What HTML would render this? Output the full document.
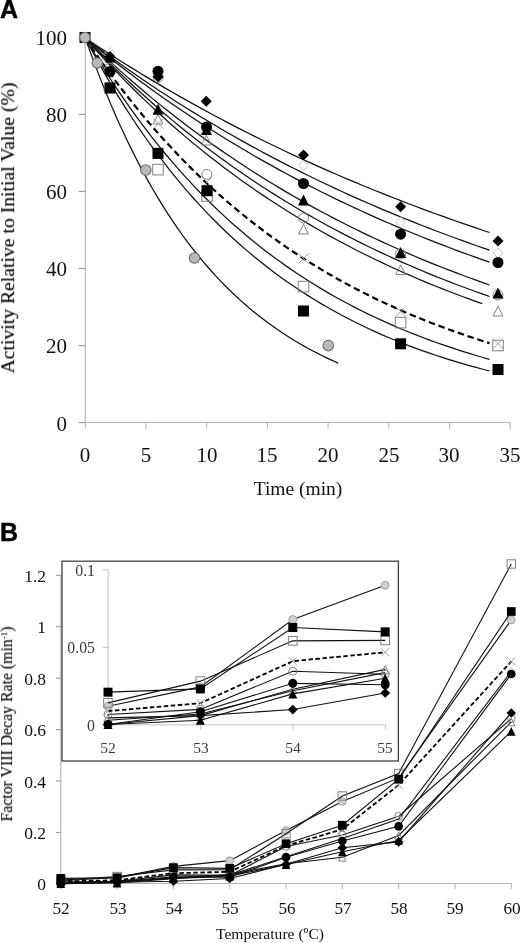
<!DOCTYPE html>
<html><head><meta charset="utf-8"><title>Figure</title>
<style>
html,body{margin:0;padding:0;background:#fff;}
body{width:520px;height:943px;position:relative;overflow:hidden;filter:blur(0.3px);font-family:"Liberation Serif",serif;}
.t{will-change:transform;position:absolute;white-space:nowrap;line-height:1;font-family:"Liberation Serif",serif;}
.b{font-family:"Liberation Sans",sans-serif;font-weight:bold;color:#000;-webkit-text-stroke:0.45px #000;}
</style></head><body>
<svg width="520" height="943" viewBox="0 0 520 943" style="position:absolute;left:0;top:0">
<rect width="520" height="943" fill="#fff"/>
<g stroke="#b6b6b6" stroke-width="1.1" fill="none">
<path d="M85.3 38V422.5H510.5"/>
<path d="M78.8 422.60H85.3" stroke="#9a9a9a"/>
<path d="M78.8 345.54H85.3" stroke="#9a9a9a"/>
<path d="M78.8 268.48H85.3" stroke="#9a9a9a"/>
<path d="M78.8 191.42H85.3" stroke="#9a9a9a"/>
<path d="M78.8 114.36H85.3" stroke="#9a9a9a"/>
<path d="M78.8 37.30H85.3" stroke="#9a9a9a"/>
<path d="M85.30 422.5V428.8" stroke="#b8b8b8"/>
<path d="M146.00 422.5V428.8" stroke="#b8b8b8"/>
<path d="M206.70 422.5V428.8" stroke="#b8b8b8"/>
<path d="M267.40 422.5V428.8" stroke="#b8b8b8"/>
<path d="M328.10 422.5V428.8" stroke="#b8b8b8"/>
<path d="M388.80 422.5V428.8" stroke="#b8b8b8"/>
<path d="M449.50 422.5V428.8" stroke="#b8b8b8"/>
<path d="M510.20 422.5V428.8" stroke="#b8b8b8"/>
</g>
<path d="M85.25 38.05 L91.99 42.54 L98.73 46.98 L105.46 51.36 L112.20 55.70 L118.94 59.98 L125.68 64.21 L132.41 68.40 L139.15 72.53 L145.89 76.62 L152.63 80.66 L159.36 84.65 L166.10 88.60 L172.84 92.50 L179.58 96.35 L186.32 100.16 L193.05 103.92 L199.79 107.64 L206.53 111.32 L213.27 114.95 L220.00 118.54 L226.74 122.09 L233.48 125.60 L240.22 129.07 L246.95 132.49 L253.69 135.88 L260.43 139.22 L267.17 142.53 L273.91 145.80 L280.64 149.03 L287.38 152.22 L294.12 155.38 L300.86 158.50 L307.59 161.58 L314.33 164.63 L321.07 167.64 L327.81 170.61 L334.54 173.55 L341.28 176.46 L348.02 179.33 L354.76 182.17 L361.50 184.98 L368.23 187.75 L374.97 190.49 L381.71 193.20 L388.45 195.88 L395.18 198.52 L401.92 201.13 L408.66 203.72 L415.40 206.27 L422.13 208.80 L428.87 211.29 L435.61 213.76 L442.35 216.19 L449.09 218.60 L455.82 220.98 L462.56 223.33 L469.30 225.66 L476.04 227.95 L482.77 230.23 L489.51 232.47" fill="none" stroke="#111" stroke-width="1.25"/>
<path d="M85.25 38.05 L91.99 43.16 L98.73 48.20 L105.46 53.17 L112.20 58.08 L118.94 62.92 L125.68 67.70 L132.41 72.42 L139.15 77.07 L145.89 81.66 L152.63 86.19 L159.36 90.66 L166.10 95.07 L172.84 99.42 L179.58 103.71 L186.32 107.94 L193.05 112.12 L199.79 116.25 L206.53 120.32 L213.27 124.33 L220.00 128.29 L226.74 132.20 L233.48 136.06 L240.22 139.86 L246.95 143.62 L253.69 147.33 L260.43 150.98 L267.17 154.59 L273.91 158.15 L280.64 161.66 L287.38 165.12 L294.12 168.54 L300.86 171.92 L307.59 175.25 L314.33 178.53 L321.07 181.77 L327.81 184.97 L334.54 188.12 L341.28 191.24 L348.02 194.31 L354.76 197.34 L361.50 200.33 L368.23 203.28 L374.97 206.19 L381.71 209.07 L388.45 211.90 L395.18 214.70 L401.92 217.46 L408.66 220.18 L415.40 222.87 L422.13 225.52 L428.87 228.14 L435.61 230.72 L442.35 233.26 L449.09 235.78 L455.82 238.26 L462.56 240.70 L469.30 243.12 L476.04 245.50 L482.77 247.85 L489.51 250.17" fill="none" stroke="#111" stroke-width="1.25"/>
<path d="M85.25 38.05 L91.99 43.62 L98.73 49.10 L105.46 54.50 L112.20 59.83 L118.94 65.08 L125.68 70.25 L132.41 75.35 L139.15 80.38 L145.89 85.33 L152.63 90.21 L159.36 95.02 L166.10 99.76 L172.84 104.43 L179.58 109.03 L186.32 113.57 L193.05 118.04 L199.79 122.45 L206.53 126.79 L213.27 131.07 L220.00 135.29 L226.74 139.45 L233.48 143.54 L240.22 147.58 L246.95 151.56 L253.69 155.48 L260.43 159.34 L267.17 163.15 L273.91 166.90 L280.64 170.60 L287.38 174.25 L294.12 177.84 L300.86 181.38 L307.59 184.87 L314.33 188.31 L321.07 191.70 L327.81 195.04 L334.54 198.33 L341.28 201.57 L348.02 204.77 L354.76 207.92 L361.50 211.02 L368.23 214.08 L374.97 217.10 L381.71 220.07 L388.45 223.00 L395.18 225.88 L401.92 228.73 L408.66 231.53 L415.40 234.29 L422.13 237.02 L428.87 239.70 L435.61 242.34 L442.35 244.95 L449.09 247.52 L455.82 250.05 L462.56 252.54 L469.30 255.00 L476.04 257.42 L482.77 259.81 L489.51 262.16" fill="none" stroke="#111" stroke-width="1.25"/>
<path d="M85.25 38.05 L91.99 44.58 L98.73 51.01 L105.46 57.32 L112.20 63.53 L118.94 69.63 L125.68 75.63 L132.41 81.52 L139.15 87.32 L145.89 93.02 L152.63 98.62 L159.36 104.12 L166.10 109.53 L172.84 114.85 L179.58 120.08 L186.32 125.22 L193.05 130.27 L199.79 135.24 L206.53 140.12 L213.27 144.92 L220.00 149.63 L226.74 154.27 L233.48 158.83 L240.22 163.31 L246.95 167.71 L253.69 172.04 L260.43 176.30 L267.17 180.48 L273.91 184.59 L280.64 188.64 L287.38 192.61 L294.12 196.52 L300.86 200.36 L307.59 204.13 L314.33 207.84 L321.07 211.49 L327.81 215.07 L334.54 218.60 L341.28 222.06 L348.02 225.46 L354.76 228.81 L361.50 232.10 L368.23 235.34 L374.97 238.51 L381.71 241.64 L388.45 244.71 L395.18 247.73 L401.92 250.70 L408.66 253.62 L415.40 256.49 L422.13 259.31 L428.87 262.08 L435.61 264.80 L442.35 267.48 L449.09 270.11 L455.82 272.70 L462.56 275.24 L469.30 277.74 L476.04 280.20 L482.77 282.62 L489.51 284.99" fill="none" stroke="#111" stroke-width="1.25"/>
<path d="M85.25 38.05 L91.99 45.14 L98.73 52.09 L105.46 58.92 L112.20 65.62 L118.94 72.20 L125.68 78.65 L132.41 84.99 L139.15 91.21 L145.89 97.31 L152.63 103.31 L159.36 109.19 L166.10 114.96 L172.84 120.63 L179.58 126.19 L186.32 131.65 L193.05 137.01 L199.79 142.27 L206.53 147.43 L213.27 152.50 L220.00 157.48 L226.74 162.36 L233.48 167.15 L240.22 171.86 L246.95 176.48 L253.69 181.01 L260.43 185.46 L267.17 189.83 L273.91 194.11 L280.64 198.32 L287.38 202.45 L294.12 206.50 L300.86 210.48 L307.59 214.39 L314.33 218.22 L321.07 221.98 L327.81 225.68 L334.54 229.30 L341.28 232.86 L348.02 236.35 L354.76 239.78 L361.50 243.15 L368.23 246.45 L374.97 249.69 L381.71 252.87 L388.45 256.00 L395.18 259.06 L401.92 262.07 L408.66 265.03 L415.40 267.93 L422.13 270.77 L428.87 273.57 L435.61 276.31 L442.35 279.00 L449.09 281.64 L455.82 284.24 L462.56 286.78 L469.30 289.28 L476.04 291.73 L482.77 294.14 L489.51 296.50" fill="none" stroke="#111" stroke-width="1.25"/>
<path d="M85.25 38.05 L91.87 45.50 L98.48 52.81 L105.10 59.98 L111.72 67.01 L118.33 73.90 L124.95 80.66 L131.56 87.29 L138.18 93.79 L144.80 100.16 L151.41 106.41 L158.03 112.54 L164.65 118.55 L171.26 124.44 L177.88 130.22 L184.49 135.88 L191.11 141.44 L197.73 146.89 L204.34 152.23 L210.96 157.47 L217.58 162.61 L224.19 167.64 L230.81 172.58 L237.42 177.43 L244.04 182.18 L250.66 186.84 L257.27 191.40 L263.89 195.88 L270.51 200.27 L277.12 204.58 L283.74 208.80 L290.36 212.95 L296.97 217.01 L303.59 220.99 L310.20 224.89 L316.82 228.72 L323.44 232.48 L330.05 236.16 L336.67 239.77 L343.29 243.31 L349.90 246.78 L356.52 250.19 L363.13 253.53 L369.75 256.80 L376.37 260.01 L382.98 263.16 L389.60 266.24 L396.22 269.27 L402.83 272.24 L409.45 275.15 L416.07 278.00 L422.68 280.80 L429.30 283.55 L435.91 286.24 L442.53 288.88 L449.15 291.46 L455.76 294.00 L462.38 296.49 L469.00 298.93 L475.61 301.32 L482.23 303.67" fill="none" stroke="#111" stroke-width="1.25"/>
<path d="M85.25 38.05 L91.99 48.03 L98.73 57.76 L105.46 67.23 L112.20 76.45 L118.94 85.44 L125.68 94.19 L132.41 102.72 L139.15 111.02 L145.89 119.11 L152.63 126.99 L159.36 134.66 L166.10 142.13 L172.84 149.41 L179.58 156.50 L186.32 163.41 L193.05 170.13 L199.79 176.68 L206.53 183.06 L213.27 189.28 L220.00 195.33 L226.74 201.23 L233.48 206.97 L240.22 212.57 L246.95 218.02 L253.69 223.32 L260.43 228.49 L267.17 233.53 L273.91 238.43 L280.64 243.21 L287.38 247.86 L294.12 252.39 L300.86 256.81 L307.59 261.11 L314.33 265.29 L321.07 269.37 L327.81 273.34 L334.54 277.21 L341.28 280.98 L348.02 284.65 L354.76 288.23 L361.50 291.71 L368.23 295.10 L374.97 298.41 L381.71 301.63 L388.45 304.76 L395.18 307.81 L401.92 310.79 L408.66 313.68 L415.40 316.50 L422.13 319.25 L428.87 321.93 L435.61 324.54 L442.35 327.08 L449.09 329.55 L455.82 331.96 L462.56 334.30 L469.30 336.59 L476.04 338.81 L482.77 340.98 L489.51 343.09" fill="none" stroke="#000" stroke-width="2.2" stroke-dasharray="6.5 3.8"/>
<path d="M85.25 38.05 L91.99 49.47 L98.73 60.55 L105.46 71.30 L112.20 81.73 L118.94 91.86 L125.68 101.68 L132.41 111.21 L139.15 120.45 L145.89 129.42 L152.63 138.13 L159.36 146.57 L166.10 154.77 L172.84 162.72 L179.58 170.43 L186.32 177.92 L193.05 185.18 L199.79 192.23 L206.53 199.06 L213.27 205.70 L220.00 212.13 L226.74 218.38 L233.48 224.44 L240.22 230.32 L246.95 236.03 L253.69 241.56 L260.43 246.93 L267.17 252.14 L273.91 257.20 L280.64 262.11 L287.38 266.87 L294.12 271.48 L300.86 275.97 L307.59 280.31 L314.33 284.53 L321.07 288.63 L327.81 292.60 L334.54 296.45 L341.28 300.19 L348.02 303.82 L354.76 307.34 L361.50 310.76 L368.23 314.07 L374.97 317.29 L381.71 320.41 L388.45 323.43 L395.18 326.37 L401.92 329.22 L408.66 331.99 L415.40 334.67 L422.13 337.27 L428.87 339.80 L435.61 342.25 L442.35 344.63 L449.09 346.93 L455.82 349.17 L462.56 351.34 L469.30 353.45 L476.04 355.50 L482.77 357.48 L489.51 359.41" fill="none" stroke="#111" stroke-width="1.25"/>
<path d="M85.25 38.05 L91.99 50.74 L98.73 63.00 L105.46 74.87 L112.20 86.34 L118.94 97.43 L125.68 108.15 L132.41 118.53 L139.15 128.55 L145.89 138.25 L152.63 147.63 L159.36 156.70 L166.10 165.47 L172.84 173.95 L179.58 182.14 L186.32 190.07 L193.05 197.74 L199.79 205.15 L206.53 212.32 L213.27 219.25 L220.00 225.96 L226.74 232.44 L233.48 238.71 L240.22 244.77 L246.95 250.63 L253.69 256.29 L260.43 261.77 L267.17 267.07 L273.91 272.20 L280.64 277.15 L287.38 281.94 L294.12 286.58 L300.86 291.06 L307.59 295.39 L314.33 299.58 L321.07 303.63 L327.81 307.54 L334.54 311.33 L341.28 314.99 L348.02 318.54 L354.76 321.96 L361.50 325.27 L368.23 328.47 L374.97 331.57 L381.71 334.56 L388.45 337.46 L395.18 340.26 L401.92 342.97 L408.66 345.59 L415.40 348.12 L422.13 350.56 L428.87 352.93 L435.61 355.22 L442.35 357.43 L449.09 359.57 L455.82 361.64 L462.56 363.64 L469.30 365.58 L476.04 367.45 L482.77 369.26 L489.51 371.01" fill="none" stroke="#111" stroke-width="1.25"/>
<path d="M85.25 38.05 L89.47 49.85 L93.68 61.28 L97.90 72.37 L102.12 83.11 L106.33 93.53 L110.55 103.62 L114.77 113.41 L118.98 122.89 L123.20 132.09 L127.42 141.00 L131.63 149.63 L135.85 158.00 L140.07 166.12 L144.28 173.99 L148.50 181.61 L152.72 189.00 L156.93 196.16 L161.15 203.10 L165.37 209.83 L169.58 216.36 L173.80 222.68 L178.02 228.81 L182.23 234.75 L186.45 240.51 L190.67 246.09 L194.88 251.50 L199.10 256.74 L203.32 261.82 L207.53 266.75 L211.75 271.53 L215.97 276.16 L220.18 280.64 L224.40 284.99 L228.62 289.21 L232.83 293.29 L237.05 297.25 L241.27 301.09 L245.48 304.81 L249.70 308.42 L253.92 311.91 L258.13 315.30 L262.35 318.59 L266.56 321.77 L270.78 324.85 L275.00 327.85 L279.21 330.74 L283.43 333.55 L287.65 336.28 L291.86 338.92 L296.08 341.48 L300.30 343.96 L304.51 346.36 L308.73 348.69 L312.95 350.95 L317.16 353.14 L321.38 355.26 L325.60 357.32 L329.81 359.31 L334.03 361.25 L338.25 363.12" fill="none" stroke="#111" stroke-width="1.25"/>
<path d="M110.00 47.60L115.00 52.60L110.00 57.60L105.00 52.60Z" fill="none" stroke="#c4c4c4" stroke-width="1"/>
<path d="M158.00 72.00L163.00 77.00L158.00 82.00L153.00 77.00Z" fill="none" stroke="#c4c4c4" stroke-width="1"/>
<path d="M207.00 122.00L212.00 127.00L207.00 132.00L202.00 127.00Z" fill="none" stroke="#c4c4c4" stroke-width="1"/>
<path d="M303.50 160.30L308.50 165.30L303.50 170.30L298.50 165.30Z" fill="none" stroke="#c4c4c4" stroke-width="1"/>
<path d="M400.60 217.00L405.60 222.00L400.60 227.00L395.60 222.00Z" fill="none" stroke="#c4c4c4" stroke-width="1"/>
<path d="M498.00 248.00L503.00 253.00L498.00 258.00L493.00 253.00Z" fill="none" stroke="#c4c4c4" stroke-width="1"/>
<circle cx="110.00" cy="68.00" r="5.00" fill="none" stroke="#808080" stroke-width="1"/>
<circle cx="158.20" cy="77.40" r="5.00" fill="none" stroke="#808080" stroke-width="1"/>
<circle cx="206.80" cy="174.40" r="5.00" fill="none" stroke="#808080" stroke-width="1"/>
<circle cx="303.50" cy="218.00" r="5.00" fill="none" stroke="#808080" stroke-width="1"/>
<circle cx="400.60" cy="254.00" r="5.00" fill="none" stroke="#808080" stroke-width="1"/>
<circle cx="498.00" cy="295.00" r="5.00" fill="none" stroke="#808080" stroke-width="1"/>
<path d="M108.60 80.90L113.50 90.60L103.70 90.60Z" fill="none" stroke="#808080" stroke-width="1"/>
<path d="M158.00 114.30L162.90 124.00L153.10 124.00Z" fill="none" stroke="#808080" stroke-width="1"/>
<path d="M206.50 135.30L211.40 145.00L201.60 145.00Z" fill="none" stroke="#808080" stroke-width="1"/>
<path d="M303.50 224.30L308.40 234.00L298.60 234.00Z" fill="none" stroke="#808080" stroke-width="1"/>
<path d="M400.60 264.90L405.50 274.60L395.70 274.60Z" fill="none" stroke="#808080" stroke-width="1"/>
<path d="M498.00 306.30L502.90 316.00L493.10 316.00Z" fill="none" stroke="#808080" stroke-width="1"/>
<rect x="152.70" y="164.30" width="10.6" height="10.6" fill="none" stroke="#808080" stroke-width="1"/>
<rect x="201.70" y="190.70" width="10.6" height="10.6" fill="none" stroke="#808080" stroke-width="1"/>
<rect x="298.20" y="281.30" width="10.6" height="10.6" fill="none" stroke="#808080" stroke-width="1"/>
<rect x="395.30" y="317.30" width="10.6" height="10.6" fill="none" stroke="#808080" stroke-width="1"/>
<rect x="492.70" y="340.20" width="10.6" height="10.6" fill="none" stroke="#808080" stroke-width="1"/>
<path d="M153.50 118.70L163.50 128.70M163.50 118.70L153.50 128.70" fill="none" stroke="#a0a0a0" stroke-width="1"/>
<path d="M202.00 177.00L212.00 187.00M212.00 177.00L202.00 187.00" fill="none" stroke="#a0a0a0" stroke-width="1"/>
<path d="M298.50 253.50L308.50 263.50M308.50 253.50L298.50 263.50" fill="none" stroke="#a0a0a0" stroke-width="1"/>
<path d="M395.60 306.50L405.60 316.50M405.60 306.50L395.60 316.50" fill="none" stroke="#a0a0a0" stroke-width="1"/>
<path d="M493.00 338.60L503.00 348.60M503.00 338.60L493.00 348.60" fill="none" stroke="#a0a0a0" stroke-width="1"/>
<path d="M110.00 51.00L115.50 56.50L110.00 62.00L104.50 56.50Z" fill="#000"/>
<path d="M158.10 71.30L163.60 76.80L158.10 82.30L152.60 76.80Z" fill="#000"/>
<path d="M206.25 95.75L211.75 101.25L206.25 106.75L200.75 101.25Z" fill="#000"/>
<path d="M303.50 149.50L309.00 155.00L303.50 160.50L298.00 155.00Z" fill="#000"/>
<path d="M400.60 201.20L406.10 206.70L400.60 212.20L395.10 206.70Z" fill="#000"/>
<path d="M498.00 235.50L503.50 241.00L498.00 246.50L492.50 241.00Z" fill="#000"/>
<circle cx="110.00" cy="71.50" r="5.50" fill="#000"/>
<circle cx="158.00" cy="71.25" r="5.50" fill="#000"/>
<circle cx="206.50" cy="127.00" r="5.50" fill="#000"/>
<circle cx="303.50" cy="183.50" r="5.50" fill="#000"/>
<circle cx="400.60" cy="234.20" r="5.50" fill="#000"/>
<circle cx="498.00" cy="262.50" r="5.50" fill="#000"/>
<path d="M110.50 51.50L116.00 62.50L105.00 62.50Z" fill="#000"/>
<path d="M158.00 103.75L163.50 114.75L152.50 114.75Z" fill="#000"/>
<path d="M206.50 124.00L212.00 135.00L201.00 135.00Z" fill="#000"/>
<path d="M303.50 194.50L309.00 205.50L298.00 205.50Z" fill="#000"/>
<path d="M400.60 246.90L406.10 257.90L395.10 257.90Z" fill="#000"/>
<path d="M498.00 287.50L503.50 298.50L492.50 298.50Z" fill="#000"/>
<rect x="79.50" y="32.00" width="11" height="11" fill="#000"/>
<rect x="104.50" y="82.50" width="11" height="11" fill="#000"/>
<rect x="152.50" y="147.90" width="11" height="11" fill="#000"/>
<rect x="201.50" y="185.20" width="11" height="11" fill="#000"/>
<rect x="298.00" y="305.50" width="11" height="11" fill="#000"/>
<rect x="395.10" y="338.30" width="11" height="11" fill="#000"/>
<rect x="492.50" y="364.00" width="11" height="11" fill="#000"/>
<circle cx="85.00" cy="37.50" r="5.25" fill="#b9b9b9" stroke="#6e6e6e" stroke-width="1.15"/>
<circle cx="97.30" cy="63.00" r="5.25" fill="#b9b9b9" stroke="#6e6e6e" stroke-width="1.15"/>
<circle cx="145.80" cy="170.00" r="5.25" fill="#b9b9b9" stroke="#6e6e6e" stroke-width="1.15"/>
<circle cx="194.50" cy="258.00" r="5.25" fill="#b9b9b9" stroke="#6e6e6e" stroke-width="1.15"/>
<circle cx="328.30" cy="345.60" r="5.25" fill="#b9b9b9" stroke="#6e6e6e" stroke-width="1.15"/>
<g stroke="#b6b6b6" stroke-width="1.1" fill="none">
<path d="M60.8 575V883.5H511.5"/>
<path d="M56 883.90H60.8" stroke="#9a9a9a"/>
<path d="M56 832.47H60.8" stroke="#9a9a9a"/>
<path d="M56 781.04H60.8" stroke="#9a9a9a"/>
<path d="M56 729.61H60.8" stroke="#9a9a9a"/>
<path d="M56 678.18H60.8" stroke="#9a9a9a"/>
<path d="M56 626.75H60.8" stroke="#9a9a9a"/>
<path d="M56 575.32H60.8" stroke="#9a9a9a"/>
<path d="M60.80 883.5V889" stroke="#b8b8b8"/>
<path d="M117.11 883.5V889" stroke="#b8b8b8"/>
<path d="M173.42 883.5V889" stroke="#b8b8b8"/>
<path d="M229.73 883.5V889" stroke="#b8b8b8"/>
<path d="M286.04 883.5V889" stroke="#b8b8b8"/>
<path d="M342.35 883.5V889" stroke="#b8b8b8"/>
<path d="M398.66 883.5V889" stroke="#b8b8b8"/>
<path d="M454.97 883.5V889" stroke="#b8b8b8"/>
<path d="M511.28 883.5V889" stroke="#b8b8b8"/>
</g>
<path d="M60.80 880.72 L117.11 877.50 L173.42 866.35 L229.73 860.67 L286.04 830.60 L342.35 801.56 L398.66 777.92 L511.28 619.99" fill="none" stroke="#111" stroke-width="1.1"/>
<circle cx="60.80" cy="880.72" r="3.85" fill="#cfcfcf" stroke="#a2a2a2" stroke-width="1"/>
<circle cx="117.11" cy="877.50" r="3.85" fill="#cfcfcf" stroke="#a2a2a2" stroke-width="1"/>
<circle cx="173.42" cy="866.35" r="3.85" fill="#cfcfcf" stroke="#a2a2a2" stroke-width="1"/>
<circle cx="229.73" cy="860.67" r="3.85" fill="#cfcfcf" stroke="#a2a2a2" stroke-width="1"/>
<circle cx="286.04" cy="830.60" r="3.85" fill="#cfcfcf" stroke="#a2a2a2" stroke-width="1"/>
<circle cx="342.35" cy="801.56" r="3.85" fill="#cfcfcf" stroke="#a2a2a2" stroke-width="1"/>
<circle cx="398.66" cy="777.92" r="3.85" fill="#cfcfcf" stroke="#a2a2a2" stroke-width="1"/>
<circle cx="511.28" cy="619.99" r="3.85" fill="#cfcfcf" stroke="#a2a2a2" stroke-width="1"/>
<path d="M60.80 880.15 L117.11 876.55 L173.42 869.87 L229.73 869.79 L286.04 833.68 L342.35 796.01 L398.66 773.50 L511.28 563.99" fill="none" stroke="#111" stroke-width="1.1"/>
<rect x="56.60" y="875.95" width="8.399999999999999" height="8.399999999999999" fill="none" stroke="#808080" stroke-width="1"/>
<rect x="112.91" y="872.35" width="8.399999999999999" height="8.399999999999999" fill="none" stroke="#808080" stroke-width="1"/>
<rect x="169.22" y="865.67" width="8.399999999999999" height="8.399999999999999" fill="none" stroke="#808080" stroke-width="1"/>
<rect x="225.53" y="865.59" width="8.399999999999999" height="8.399999999999999" fill="none" stroke="#808080" stroke-width="1"/>
<rect x="281.84" y="829.48" width="8.399999999999999" height="8.399999999999999" fill="none" stroke="#808080" stroke-width="1"/>
<rect x="338.15" y="791.81" width="8.399999999999999" height="8.399999999999999" fill="none" stroke="#808080" stroke-width="1"/>
<rect x="394.46" y="769.30" width="8.399999999999999" height="8.399999999999999" fill="none" stroke="#808080" stroke-width="1"/>
<rect x="507.08" y="559.79" width="8.399999999999999" height="8.399999999999999" fill="none" stroke="#808080" stroke-width="1"/>
<path d="M60.80 882.08 L117.11 881.23 L173.42 874.91 L229.73 875.40 L286.04 846.41 L342.35 834.97 L398.66 816.21 L511.28 718.55" fill="none" stroke="#111" stroke-width="1.1"/>
<circle cx="60.80" cy="882.08" r="3.85" fill="none" stroke="#808080" stroke-width="1"/>
<circle cx="117.11" cy="881.23" r="3.85" fill="none" stroke="#808080" stroke-width="1"/>
<circle cx="173.42" cy="874.91" r="3.85" fill="none" stroke="#808080" stroke-width="1"/>
<circle cx="229.73" cy="875.40" r="3.85" fill="none" stroke="#808080" stroke-width="1"/>
<circle cx="286.04" cy="846.41" r="3.85" fill="none" stroke="#808080" stroke-width="1"/>
<circle cx="342.35" cy="834.97" r="3.85" fill="none" stroke="#808080" stroke-width="1"/>
<circle cx="398.66" cy="816.21" r="3.85" fill="none" stroke="#808080" stroke-width="1"/>
<circle cx="511.28" cy="718.55" r="3.85" fill="none" stroke="#808080" stroke-width="1"/>
<path d="M60.80 883.03 L117.11 882.00 L173.42 878.15 L229.73 875.14 L286.04 856.81 L342.35 838.57 L398.66 819.04 L511.28 671.52" fill="none" stroke="#111" stroke-width="1.1"/>
<path d="M60.80 879.18L64.65 883.03L60.80 886.88L56.95 883.03Z" fill="none" stroke="#c4c4c4" stroke-width="1"/>
<path d="M117.11 878.15L120.96 882.00L117.11 885.85L113.26 882.00Z" fill="none" stroke="#c4c4c4" stroke-width="1"/>
<path d="M173.42 874.30L177.27 878.15L173.42 882.00L169.57 878.15Z" fill="none" stroke="#c4c4c4" stroke-width="1"/>
<path d="M229.73 871.29L233.58 875.14L229.73 878.99L225.88 875.14Z" fill="none" stroke="#c4c4c4" stroke-width="1"/>
<path d="M286.04 852.96L289.89 856.81L286.04 860.66L282.19 856.81Z" fill="none" stroke="#c4c4c4" stroke-width="1"/>
<path d="M342.35 834.72L346.20 838.57L342.35 842.42L338.50 838.57Z" fill="none" stroke="#c4c4c4" stroke-width="1"/>
<path d="M398.66 815.19L402.51 819.04L398.66 822.89L394.81 819.04Z" fill="none" stroke="#c4c4c4" stroke-width="1"/>
<path d="M511.28 667.67L515.13 671.52L511.28 675.37L507.43 671.52Z" fill="none" stroke="#c4c4c4" stroke-width="1"/>
<path d="M60.80 882.64 L117.11 882.26 L173.42 877.89 L229.73 874.60 L286.04 863.75 L342.35 857.20 L398.66 835.48 L511.28 721.89" fill="none" stroke="#111" stroke-width="1.1"/>
<path d="M60.80 879.09L64.55 886.49L57.05 886.49Z" fill="none" stroke="#808080" stroke-width="1"/>
<path d="M117.11 878.71L120.86 886.11L113.36 886.11Z" fill="none" stroke="#808080" stroke-width="1"/>
<path d="M173.42 874.34L177.17 881.74L169.67 881.74Z" fill="none" stroke="#808080" stroke-width="1"/>
<path d="M229.73 871.05L233.48 878.45L225.98 878.45Z" fill="none" stroke="#808080" stroke-width="1"/>
<path d="M286.04 860.20L289.79 867.60L282.29 867.60Z" fill="none" stroke="#808080" stroke-width="1"/>
<path d="M342.35 853.65L346.10 861.05L338.60 861.05Z" fill="none" stroke="#808080" stroke-width="1"/>
<path d="M398.66 831.93L402.41 839.33L394.91 839.33Z" fill="none" stroke="#808080" stroke-width="1"/>
<path d="M511.28 718.34L515.03 725.74L507.53 725.74Z" fill="none" stroke="#808080" stroke-width="1"/>
<path d="M60.80 881.51 L117.11 880.20 L173.42 873.24 L229.73 871.77 L286.04 845.76 L342.35 829.32 L398.66 785.01 L511.28 661.32" fill="none" stroke="#000" stroke-width="1.8" stroke-dasharray="4.5 2.5"/>
<path d="M56.85 877.56L64.75 885.46M64.75 877.56L56.85 885.46" fill="none" stroke="#a0a0a0" stroke-width="1"/>
<path d="M113.16 876.25L121.06 884.15M121.06 876.25L113.16 884.15" fill="none" stroke="#a0a0a0" stroke-width="1"/>
<path d="M169.47 869.29L177.37 877.19M177.37 869.29L169.47 877.19" fill="none" stroke="#a0a0a0" stroke-width="1"/>
<path d="M225.78 867.82L233.68 875.72M233.68 867.82L225.78 875.72" fill="none" stroke="#a0a0a0" stroke-width="1"/>
<path d="M282.09 841.81L289.99 849.71M289.99 841.81L282.09 849.71" fill="none" stroke="#a0a0a0" stroke-width="1"/>
<path d="M338.40 825.37L346.30 833.27M346.30 825.37L338.40 833.27" fill="none" stroke="#a0a0a0" stroke-width="1"/>
<path d="M394.71 781.06L402.61 788.96M402.61 781.06L394.71 788.96" fill="none" stroke="#a0a0a0" stroke-width="1"/>
<path d="M507.33 657.37L515.23 665.27M515.23 657.37L507.33 665.27" fill="none" stroke="#a0a0a0" stroke-width="1"/>
<path d="M60.80 883.72 L117.11 883.03 L173.42 878.66 L229.73 876.06 L286.04 864.52 L342.35 851.80 L398.66 840.50 L511.28 731.32" fill="none" stroke="#111" stroke-width="1.1"/>
<path d="M60.80 879.37L65.15 888.07L56.45 888.07Z" fill="#000"/>
<path d="M117.11 878.68L121.46 887.38L112.76 887.38Z" fill="#000"/>
<path d="M173.42 874.31L177.77 883.01L169.07 883.01Z" fill="#000"/>
<path d="M229.73 871.71L234.08 880.41L225.38 880.41Z" fill="#000"/>
<path d="M286.04 860.17L290.39 868.88L281.69 868.88Z" fill="#000"/>
<path d="M342.35 847.45L346.70 856.15L338.00 856.15Z" fill="#000"/>
<path d="M398.66 836.15L403.01 844.85L394.31 844.85Z" fill="#000"/>
<path d="M511.28 726.97L515.63 735.67L506.93 735.67Z" fill="#000"/>
<path d="M60.80 883.72 L117.11 882.26 L173.42 881.26 L229.73 878.51 L286.04 864.27 L342.35 847.82 L398.66 841.91 L511.28 712.89" fill="none" stroke="#111" stroke-width="1.1"/>
<path d="M60.80 878.97L65.55 883.72L60.80 888.47L56.05 883.72Z" fill="#000"/>
<path d="M117.11 877.51L121.86 882.26L117.11 887.01L112.36 882.26Z" fill="#000"/>
<path d="M173.42 876.51L178.17 881.26L173.42 886.01L168.67 881.26Z" fill="#000"/>
<path d="M229.73 873.76L234.48 878.51L229.73 883.26L224.98 878.51Z" fill="#000"/>
<path d="M286.04 859.52L290.79 864.27L286.04 869.02L281.29 864.27Z" fill="#000"/>
<path d="M342.35 843.07L347.10 847.82L342.35 852.57L337.60 847.82Z" fill="#000"/>
<path d="M398.66 837.16L403.41 841.91L398.66 846.66L393.91 841.91Z" fill="#000"/>
<path d="M511.28 708.14L516.03 712.89L511.28 717.64L506.53 712.89Z" fill="#000"/>
<path d="M60.80 883.72 L117.11 881.62 L173.42 876.91 L229.73 877.14 L286.04 857.20 L342.35 841.01 L398.66 826.31 L511.28 674.01" fill="none" stroke="#111" stroke-width="1.1"/>
<circle cx="60.80" cy="883.72" r="4.35" fill="#000"/>
<circle cx="117.11" cy="881.62" r="4.35" fill="#000"/>
<circle cx="173.42" cy="876.91" r="4.35" fill="#000"/>
<circle cx="229.73" cy="877.14" r="4.35" fill="#000"/>
<circle cx="286.04" cy="857.20" r="4.35" fill="#000"/>
<circle cx="342.35" cy="841.01" r="4.35" fill="#000"/>
<circle cx="398.66" cy="826.31" r="4.35" fill="#000"/>
<circle cx="511.28" cy="674.01" r="4.35" fill="#000"/>
<path d="M60.80 878.38 L117.11 877.84 L173.42 867.66 L229.73 868.38 L286.04 843.71 L342.35 825.20 L398.66 779.20 L511.28 611.51" fill="none" stroke="#111" stroke-width="1.1"/>
<rect x="56.45" y="874.03" width="8.7" height="8.7" fill="#000"/>
<rect x="112.76" y="873.49" width="8.7" height="8.7" fill="#000"/>
<rect x="169.07" y="863.31" width="8.7" height="8.7" fill="#000"/>
<rect x="225.38" y="864.03" width="8.7" height="8.7" fill="#000"/>
<rect x="281.69" y="839.36" width="8.7" height="8.7" fill="#000"/>
<rect x="338.00" y="820.85" width="8.7" height="8.7" fill="#000"/>
<rect x="394.31" y="774.85" width="8.7" height="8.7" fill="#000"/>
<rect x="506.93" y="607.16" width="8.7" height="8.7" fill="#000"/>
<rect x="62" y="561.2" width="336.4" height="199.8" fill="#fff" stroke="#3a3a3a" stroke-width="1.25"/>
<g stroke="#c4c4c4" stroke-width="1" fill="none">
<path d="M108.2 569.8V724.9H385.5"/>
<path d="M102.6 724.90H108.2"/>
<path d="M102.6 647.35H108.2"/>
<path d="M102.6 569.80H108.2"/>
<path d="M108.20 724.9V729.6"/>
<path d="M200.60 724.9V729.6"/>
<path d="M293.00 724.9V729.6"/>
<path d="M385.40 724.9V729.6"/>
</g>
<path d="M108.00 706.29 L200.40 686.90 L292.80 619.59 L385.20 585.31" fill="none" stroke="#111" stroke-width="1.1"/>
<circle cx="108.00" cy="706.29" r="4.00" fill="#cfcfcf" stroke="#a2a2a2" stroke-width="1"/>
<circle cx="200.40" cy="686.90" r="4.00" fill="#cfcfcf" stroke="#a2a2a2" stroke-width="1"/>
<circle cx="292.80" cy="619.59" r="4.00" fill="#cfcfcf" stroke="#a2a2a2" stroke-width="1"/>
<circle cx="385.20" cy="585.31" r="4.00" fill="#cfcfcf" stroke="#a2a2a2" stroke-width="1"/>
<path d="M108.00 702.88 L200.40 681.16 L292.80 640.84 L385.20 640.37" fill="none" stroke="#111" stroke-width="1.1"/>
<rect x="103.65" y="698.53" width="8.7" height="8.7" fill="none" stroke="#808080" stroke-width="1"/>
<rect x="196.05" y="676.81" width="8.7" height="8.7" fill="none" stroke="#808080" stroke-width="1"/>
<rect x="288.45" y="636.49" width="8.7" height="8.7" fill="none" stroke="#808080" stroke-width="1"/>
<rect x="380.85" y="636.02" width="8.7" height="8.7" fill="none" stroke="#808080" stroke-width="1"/>
<path d="M108.00 714.51 L200.40 709.39 L292.80 671.24 L385.20 674.18" fill="none" stroke="#111" stroke-width="1.1"/>
<circle cx="108.00" cy="714.51" r="4.00" fill="none" stroke="#808080" stroke-width="1"/>
<circle cx="200.40" cy="709.39" r="4.00" fill="none" stroke="#808080" stroke-width="1"/>
<circle cx="292.80" cy="671.24" r="4.00" fill="none" stroke="#808080" stroke-width="1"/>
<circle cx="385.20" cy="674.18" r="4.00" fill="none" stroke="#808080" stroke-width="1"/>
<path d="M108.00 720.25 L200.40 714.04 L292.80 690.78 L385.20 672.63" fill="none" stroke="#111" stroke-width="1.1"/>
<path d="M108.00 716.25L112.00 720.25L108.00 724.25L104.00 720.25Z" fill="none" stroke="#c4c4c4" stroke-width="1"/>
<path d="M200.40 710.04L204.40 714.04L200.40 718.04L196.40 714.04Z" fill="none" stroke="#c4c4c4" stroke-width="1"/>
<path d="M292.80 686.78L296.80 690.78L292.80 694.78L288.80 690.78Z" fill="none" stroke="#c4c4c4" stroke-width="1"/>
<path d="M385.20 668.63L389.20 672.63L385.20 676.63L381.20 672.63Z" fill="none" stroke="#c4c4c4" stroke-width="1"/>
<path d="M108.00 717.92 L200.40 715.59 L292.80 689.23 L385.20 669.37" fill="none" stroke="#111" stroke-width="1.1"/>
<path d="M108.00 714.22L111.90 721.92L104.10 721.92Z" fill="none" stroke="#808080" stroke-width="1"/>
<path d="M200.40 711.89L204.30 719.59L196.50 719.59Z" fill="none" stroke="#808080" stroke-width="1"/>
<path d="M292.80 685.53L296.70 693.23L288.90 693.23Z" fill="none" stroke="#808080" stroke-width="1"/>
<path d="M385.20 665.67L389.10 673.37L381.30 673.37Z" fill="none" stroke="#808080" stroke-width="1"/>
<path d="M108.00 711.10 L200.40 703.19 L292.80 661.15 L385.20 652.31" fill="none" stroke="#000" stroke-width="1.8" stroke-dasharray="4.5 2.5"/>
<path d="M103.90 707.00L112.10 715.20M112.10 707.00L103.90 715.20" fill="none" stroke="#a0a0a0" stroke-width="1"/>
<path d="M196.30 699.09L204.50 707.29M204.50 699.09L196.30 707.29" fill="none" stroke="#a0a0a0" stroke-width="1"/>
<path d="M288.70 657.05L296.90 665.25M296.90 657.05L288.70 665.25" fill="none" stroke="#a0a0a0" stroke-width="1"/>
<path d="M381.10 648.21L389.30 656.41M389.30 648.21L381.10 656.41" fill="none" stroke="#a0a0a0" stroke-width="1"/>
<path d="M108.00 724.43 L200.40 720.25 L292.80 693.88 L385.20 678.21" fill="none" stroke="#111" stroke-width="1.1"/>
<path d="M108.00 719.93L112.50 728.93L103.50 728.93Z" fill="#000"/>
<path d="M200.40 715.75L204.90 724.75L195.90 724.75Z" fill="#000"/>
<path d="M292.80 689.38L297.30 698.38L288.30 698.38Z" fill="#000"/>
<path d="M385.20 673.71L389.70 682.71L380.70 682.71Z" fill="#000"/>
<path d="M108.00 724.43 L200.40 715.59 L292.80 709.55 L385.20 692.95" fill="none" stroke="#111" stroke-width="1.1"/>
<path d="M108.00 719.53L112.90 724.43L108.00 729.33L103.10 724.43Z" fill="#000"/>
<path d="M200.40 710.69L205.30 715.59L200.40 720.49L195.50 715.59Z" fill="#000"/>
<path d="M292.80 704.65L297.70 709.55L292.80 714.45L287.90 709.55Z" fill="#000"/>
<path d="M385.20 688.05L390.10 692.95L385.20 697.85L380.30 692.95Z" fill="#000"/>
<path d="M108.00 724.43 L200.40 711.72 L292.80 683.33 L385.20 684.73" fill="none" stroke="#111" stroke-width="1.1"/>
<circle cx="108.00" cy="724.43" r="4.50" fill="#000"/>
<circle cx="200.40" cy="711.72" r="4.50" fill="#000"/>
<circle cx="292.80" cy="683.33" r="4.50" fill="#000"/>
<circle cx="385.20" cy="684.73" r="4.50" fill="#000"/>
<path d="M108.00 692.17 L200.40 688.92 L292.80 627.50 L385.20 631.84" fill="none" stroke="#111" stroke-width="1.1"/>
<rect x="103.50" y="687.67" width="9" height="9" fill="#000"/>
<rect x="195.90" y="684.42" width="9" height="9" fill="#000"/>
<rect x="288.30" y="623.00" width="9" height="9" fill="#000"/>
<rect x="380.70" y="627.34" width="9" height="9" fill="#000"/>
</svg>
<div class="t b" style="left:0.4px;top:-3.2px;font-size:25px;">A</div><div class="t b" style="left:0.3px;top:520.4px;font-size:25px;">B</div><div class="t" style="left:66.5px;top:423.5px;font-size:21px;color:#111;transform:translate(-100%,-50%);">0</div><div class="t" style="left:66.5px;top:346.44px;font-size:21px;color:#111;transform:translate(-100%,-50%);">20</div><div class="t" style="left:66.5px;top:269.38px;font-size:21px;color:#111;transform:translate(-100%,-50%);">40</div><div class="t" style="left:66.5px;top:192.32000000000002px;font-size:21px;color:#111;transform:translate(-100%,-50%);">60</div><div class="t" style="left:66.5px;top:115.26000000000002px;font-size:21px;color:#111;transform:translate(-100%,-50%);">80</div><div class="t" style="left:66.5px;top:38.20000000000001px;font-size:21px;color:#111;transform:translate(-100%,-50%);">100</div><div class="t" style="left:85.1px;top:454.6px;font-size:21px;color:#111;transform:translate(-50%,-50%);">0</div><div class="t" style="left:145.8px;top:454.6px;font-size:21px;color:#111;transform:translate(-50%,-50%);">5</div><div class="t" style="left:206.5px;top:454.6px;font-size:21px;color:#111;transform:translate(-50%,-50%);">10</div><div class="t" style="left:267.20000000000005px;top:454.6px;font-size:21px;color:#111;transform:translate(-50%,-50%);">15</div><div class="t" style="left:327.90000000000003px;top:454.6px;font-size:21px;color:#111;transform:translate(-50%,-50%);">20</div><div class="t" style="left:388.6px;top:454.6px;font-size:21px;color:#111;transform:translate(-50%,-50%);">25</div><div class="t" style="left:449.30000000000007px;top:454.6px;font-size:21px;color:#111;transform:translate(-50%,-50%);">30</div><div class="t" style="left:510.00000000000006px;top:454.6px;font-size:21px;color:#111;transform:translate(-50%,-50%);">35</div><div class="t" style="left:297.7px;top:489px;font-size:19.5px;color:#111;transform:translate(-50%,-50%);">Time (min)</div><div class="t" style="left:8.3px;top:228px;font-size:19.7px;color:#000;-webkit-text-stroke:0.12px #000;transform:translate(-50%,-50%) rotate(-90deg);">Activity Relative to Initial Value (%)</div><div class="t" style="left:45.8px;top:885.4px;font-size:17.5px;color:#111;transform:translate(-100%,-50%);">0</div><div class="t" style="left:45.8px;top:833.97px;font-size:17.5px;color:#111;transform:translate(-100%,-50%);">0.2</div><div class="t" style="left:45.8px;top:782.54px;font-size:17.5px;color:#111;transform:translate(-100%,-50%);">0.4</div><div class="t" style="left:45.8px;top:731.11px;font-size:17.5px;color:#111;transform:translate(-100%,-50%);">0.6</div><div class="t" style="left:45.8px;top:679.68px;font-size:17.5px;color:#111;transform:translate(-100%,-50%);">0.8</div><div class="t" style="left:45.8px;top:628.25px;font-size:17.5px;color:#111;transform:translate(-100%,-50%);">1</div><div class="t" style="left:45.8px;top:576.8199999999999px;font-size:17.5px;color:#111;transform:translate(-100%,-50%);">1.2</div><div class="t" style="left:61.3px;top:909.4px;font-size:17.2px;color:#111;transform:translate(-50%,-50%);">52</div><div class="t" style="left:117.61px;top:909.4px;font-size:17.2px;color:#111;transform:translate(-50%,-50%);">53</div><div class="t" style="left:173.92000000000002px;top:909.4px;font-size:17.2px;color:#111;transform:translate(-50%,-50%);">54</div><div class="t" style="left:230.23000000000002px;top:909.4px;font-size:17.2px;color:#111;transform:translate(-50%,-50%);">55</div><div class="t" style="left:286.54px;top:909.4px;font-size:17.2px;color:#111;transform:translate(-50%,-50%);">56</div><div class="t" style="left:342.85px;top:909.4px;font-size:17.2px;color:#111;transform:translate(-50%,-50%);">57</div><div class="t" style="left:399.16px;top:909.4px;font-size:17.2px;color:#111;transform:translate(-50%,-50%);">58</div><div class="t" style="left:455.47px;top:909.4px;font-size:17.2px;color:#111;transform:translate(-50%,-50%);">59</div><div class="t" style="left:511.78000000000003px;top:909.4px;font-size:17.2px;color:#111;transform:translate(-50%,-50%);">60</div><div class="t" style="left:269.6px;top:934.0px;font-size:15.6px;color:#111;transform:translate(-50%,-50%);">Temperature (&ordm;C)</div><div class="t" style="left:7.2px;top:724.3px;font-size:15.8px;color:#000;-webkit-text-stroke:0.1px #000;transform:translate(-50%,-50%) rotate(-90deg);">Factor VIII Decay Rate (min<span style="font-size:9px;position:relative;top:-5px">-1</span>)</div><div class="t" style="left:94.5px;top:725.6999999999999px;font-size:15.8px;color:#3c3c3c;transform:translate(-100%,-50%);">0</div><div class="t" style="left:94.5px;top:648.1499999999999px;font-size:15.8px;color:#3c3c3c;transform:translate(-100%,-50%);">0.05</div><div class="t" style="left:94.5px;top:570.5999999999999px;font-size:15.8px;color:#3c3c3c;transform:translate(-100%,-50%);">0.1</div><div class="t" style="left:108.2px;top:747.6px;font-size:15.5px;color:#3c3c3c;transform:translate(-50%,-50%);">52</div><div class="t" style="left:200.6px;top:747.6px;font-size:15.5px;color:#3c3c3c;transform:translate(-50%,-50%);">53</div><div class="t" style="left:293.0px;top:747.6px;font-size:15.5px;color:#3c3c3c;transform:translate(-50%,-50%);">54</div><div class="t" style="left:385.40000000000003px;top:747.6px;font-size:15.5px;color:#3c3c3c;transform:translate(-50%,-50%);">55</div>
</body></html>
